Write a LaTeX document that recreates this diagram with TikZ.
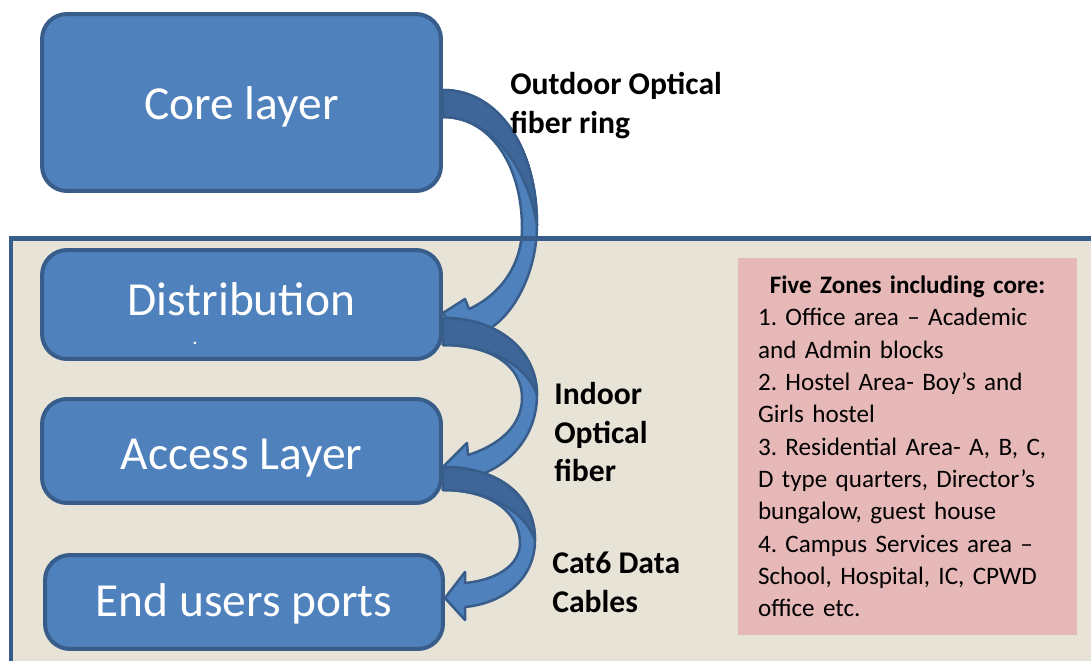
\documentclass[tikz,border=0pt]{standalone}
\usepackage{fontspec}
\setmainfont{Carlito}
\definecolor{layerblue}{HTML}{4F81BD}
\definecolor{layeredge}{HTML}{385D8A}
\definecolor{arrowback}{HTML}{3E6699}
\definecolor{panelbeige}{HTML}{E7E3D7}
\definecolor{zonepink}{HTML}{E6B9B8}

% text of a layer box, baseline put #1 below the box centre
\newcommand{\sunk}[2]{\raisebox{-#1}[0pt][0pt]{#2}}

\tikzset{
  layer/.style={draw=layeredge, fill=layerblue, line width=0.08cm, rounded corners=0.5cm,
    minimum width=7.98cm, text=white, font=\fontsize{27}{32}\selectfont},
  bendarrow/.style={draw=layeredge, fill=layerblue, line width=0.05cm, line join=round},
  bendback/.style={draw=layeredge, fill=arrowback, line width=0.05cm, line join=round},
  medium/.style={font=\bfseries\fontsize{18}{22}\selectfont, align=left, anchor=north west, inner sep=0pt},
}

\begin{document}
\begin{tikzpicture}[x=0.02cm, y=-0.02cm]
  \useasboundingbox (0,0) rectangle (1091,661);

  % campus panel
  \fill[panelbeige] (11,239) rectangle (1110,680);

  % layers
  \node[layer, minimum height=3.54cm] (core) at (241.5,102.5) {\sunk{0.34cm}{Core layer}};
  \node[layer, minimum height=2.18cm] (dist) at (241.5,304.5) {\sunk{0.22cm}{Distribution}};
  \node[text=white, font=\fontsize{12}{14}\selectfont, anchor=base, inner sep=0pt] (distdot) at (195,345) {.};
  \node[layer, minimum height=2.08cm] (access) at (241.5,451) {\sunk{0.37cm}{Access Layer}};
  \node[layer, minimum height=1.88cm, minimum width=7.96cm] (end) at (244,602) {\sunk{0.29cm}{End users ports}};

  % outdoor ring: core -> distribution
  \draw[bendarrow] (core.east |- 0,90) .. controls (500,90) and (537,150) .. (537,225)
    .. controls (537,270) and (515,320) .. (478,335) -- (465,347) -- (dist.east |- 0,313)
    -- (465,299) -- (469,309) .. controls (500,295) and (522,265) .. (522,228)
    .. controls (522,165) and (490,117) .. (core.east |- 0,117) -- cycle;
  \draw[bendback] (core.east |- 0,90) .. controls (500,90) and (537,150) .. (537,225)
    .. controls (527,165) and (490,117) .. (core.east |- 0,117) -- cycle;

  % indoor fiber: distribution -> access
  \draw[bendarrow] (dist.east |- 0,318) .. controls (500,318) and (537,352) .. (537,395)
    .. controls (537,435) and (510,468) .. (470,478) -- (465,491) -- (access.east |- 0,467)
    -- (467,443) -- (468,455) .. controls (500,445) and (522,425) .. (522,398)
    .. controls (522,365) and (490,345) .. (dist.east |- 0,345) -- cycle;
  \draw[bendback] (dist.east |- 0,318) .. controls (500,318) and (537,352) .. (537,395)
    .. controls (527,365) and (490,345) .. (dist.east |- 0,345) -- cycle;

  % cat6: access -> end users
  \draw[bendarrow] (access.east |- 0,467) .. controls (500,467) and (535,497) .. (535,540)
    .. controls (535,578) and (505,603) .. (465,607) -- (465,620) -- (end.east |- 0,598)
    -- (465,572) -- (465,583) .. controls (497,580) and (520,565) .. (520,543)
    .. controls (520,512) and (490,490) .. (access.east |- 0,490) -- cycle;
  \draw[bendback] (access.east |- 0,467) .. controls (500,467) and (535,497) .. (535,540)
    .. controls (525,512) and (490,490) .. (access.east |- 0,490) -- cycle;

  % panel edge over the ring
  \draw[layeredge, line width=0.1cm] (11,680) |- (1110,239);

  % media labels
  \node[medium] (outdoor) at (510,72) {Outdoor Optical\\fiber ring};
  \node[medium] (indoor) at (554,382) {Indoor\\Optical\\fiber};
  \node[medium] (cat6) at (552,552) {Cat6 Data\\Cables};

  % zones
  \node[fill=zonepink, text width=5.98cm, inner xsep=0.4cm, minimum height=7.54cm,
    align=left, font=\frenchspacing\fontsize{14.3}{18.4}\selectfont] (zones) at (907.5,446.5)
    {\makebox[\linewidth]{\bfseries Five Zones including core:}\\
     1. Office area – Academic\\
     and Admin blocks\\
     2. Hostel Area- Boy’s and\\
     Girls hostel\\
     3. Residential Area- A, B, C,\\
     D type quarters, Director’s\\
     bungalow, guest house\\
     4. Campus Services area –\\
     School, Hospital, IC, CPWD\\
     office etc.};
\end{tikzpicture}
\end{document}
